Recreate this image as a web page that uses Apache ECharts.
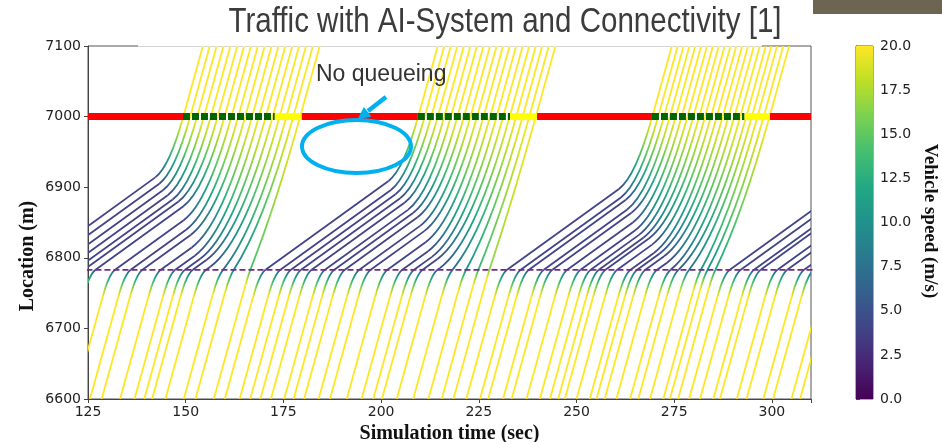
<!DOCTYPE html>
<html><head><meta charset="utf-8">
<script src="https://cdn.jsdelivr.net/npm/echarts@6/dist/echarts.min.js"></script>
<style>html,body{margin:0;padding:0;background:#fff}#c{width:942px;height:442px}</style>
</head><body><div id="c"></div>
<script>
// ---------------- data ----------------
const timeTicks = [125, 150, 175, 200, 225, 250, 275, 300];
const locationTicks = [6600, 6700, 6800, 6900, 7000, 7100];
const speedTicks = [0, 2.5, 5, 7.5, 10, 12.5, 15, 17.5, 20];
const controlLineLocation = 6783;
const stopLineLocation = 7000;
// signal phases at the stop line: [start, end, state]
const signalPhases = [
  [120, 149.3, 'red'], [149.3, 172.8, 'green'], [172.8, 179.7, 'yellow'],
  [179.7, 209.4, 'red'], [209.4, 233.0, 'green'], [233.0, 239.9, 'yellow'],
  [239.9, 269.3, 'red'], [269.3, 293.0, 'green'], [293.0, 299.5, 'yellow'],
  [299.5, 315, 'red']
];
// vehicle trajectories: waypoints [time (s), location (m), speed (m/s)]
const cycle1Vehicles = [
  [[99.07,6600,20],[106.3,6744.6,20],[109.5,6783,4],[142.22,6913.9,4],[149.4,7000,20],[154.4,7100,20]],
  [[102.32,6600,20],[109.55,6744.6,20],[112.75,6783,4],[143.24,6905,4],[151.16,7000,20],[156.16,7100,20]],
  [[105.57,6600,20],[112.8,6744.6,20],[116.0,6783,4],[144.25,6896,4],[152.92,7000,20],[157.92,7100,20]],
  [[108.57,6600,20],[115.8,6744.6,20],[119.0,6783,4],[145.4,6888.6,4],[154.68,7000,20],[159.68,7100,20]],
  [[111.32,6600,20],[118.55,6744.6,20],[121.75,6783,4],[146.66,6882.6,4],[156.44,7000,20],[161.44,7100,20]],
  [[113.57,6600,20],[120.8,6744.6,20],[124.0,6783,4],[148.17,6879.7,4],[158.2,7000,20],[163.2,7100,20]],
  [[116.5,6600,20],[123.73,6744.6,20],[126.93,6783,4],[149.33,6872.6,4],[159.95,7000,20],[164.95,7100,20]],
  [[121.5,6600,20],[128.73,6744.6,20],[131.93,6783,4],[149.48,6853.2,4],[161.71,7000,20],[166.71,7100,20]],
  [[125.5,6600,20],[132.73,6744.6,20],[135.93,6783,4],[150.11,6839.7,4],[163.47,7000,20],[168.47,7100,20]],
  [[128.5,6600,20],[135.73,6744.6,20],[138.93,6783,4],[151.26,6832.3,4],[165.23,7000,20],[170.23,7100,20]],
  [[133.2,6600,20],[140.43,6744.6,20],[143.63,6783,4],[151.56,6814.7,4],[166.99,7000,20],[171.99,7100,20]],
  [[136.9,6600,20],[144.13,6744.6,20],[147.33,6783,4],[152.33,6803.0,4],[168.75,7000,20],[173.75,7100,20]],
  [[139.4,6600,20],[146.63,6744.6,20],[149.83,6783,4],[153.73,6798.6,4],[170.51,7000,20],[175.51,7100,20]],
  [[141.4,6600,20],[148.63,6744.6,20],[151.83,6783,4],[155.36,6797.1,4],[172.27,7000,20],[177.27,7100,20]],
  [[144.8,6600,20],[152.03,6744.6,20],[155.23,6783,4],[156.31,6787.3,4],[174.03,7000,20],[179.03,7100,20]],
  [[149.5,6600,20],[156.88,6747.5,20],[159.54,6783,6.7],[175.79,7000,20],[180.79,7100,20]],
  [[152.5,6600,20],[160.01,6750.2,20],[162.31,6783,8.5],[177.54,7000,20],[182.54,7100,20]],
  [[157.2,6600,20],[165.33,6762.6,20],[166.53,6783,14],[179.3,7000,20],[184.3,7100,20]]
];
const cycle2Vehicles = [
  [[160.0,6600,20],[167.23,6744.6,20],[170.43,6783,4],[201.91,6908.9,4],[209.5,7000,20],[214.5,7100,20]],
  [[163.8,6600,20],[171.03,6744.6,20],[174.23,6783,4],[202.51,6896.1,4],[211.17,7000,20],[216.17,7100,20]],
  [[166.5,6600,20],[173.73,6744.6,20],[176.93,6783,4],[203.68,6890.0,4],[212.84,7000,20],[217.84,7100,20]],
  [[169.1,6600,20],[176.33,6744.6,20],[179.53,6783,4],[204.88,6884.4,4],[214.52,7000,20],[219.52,7100,20]],
  [[171.8,6600,20],[179.03,6744.6,20],[182.23,6783,4],[206.06,6878.3,4],[216.19,7000,20],[221.19,7100,20]],
  [[175.2,6600,20],[182.43,6744.6,20],[185.63,6783,4],[206.86,6867.9,4],[217.86,7000,20],[222.86,7100,20]],
  [[177.6,6600,20],[184.83,6744.6,20],[188.03,6783,4],[208.16,6863.5,4],[219.53,7000,20],[224.53,7100,20]],
  [[180.3,6600,20],[187.53,6744.6,20],[190.73,6783,4],[209.31,6857.3,4],[221.2,7000,20],[226.2,7100,20]],
  [[184.0,6600,20],[191.23,6744.6,20],[194.43,6783,4],[209.98,6845.2,4],[222.88,7000,20],[227.88,7100,20]],
  [[186.9,6600,20],[194.13,6744.6,20],[197.33,6783,4],[211.03,6837.8,4],[224.55,7000,20],[229.55,7100,20]],
  [[191.2,6600,20],[198.43,6744.6,20],[201.63,6783,4],[211.38,6822.0,4],[226.22,7000,20],[231.22,7100,20]],
  [[195.0,6600,20],[202.23,6744.6,20],[205.43,6783,4],[212.01,6809.3,4],[227.89,7000,20],[232.89,7100,20]],
  [[198.0,6600,20],[205.23,6744.6,20],[208.43,6783,4],[213.01,6801.3,4],[229.56,7000,20],[234.56,7100,20]],
  [[200.2,6600,20],[207.43,6744.6,20],[210.63,6783,4],[214.43,6798.2,4],[231.24,7000,20],[236.24,7100,20]],
  [[204.0,6600,20],[211.23,6744.6,20],[214.43,6783,4],[215.03,6785.4,4],[232.91,7000,20],[237.91,7100,20]],
  [[208.2,6600,20],[215.57,6747.4,20],[218.25,6783,6.6],[234.58,7000,20],[239.58,7100,20]],
  [[212.1,6600,20],[219.75,6753,20],[221.75,6783,10],[236.22,7000,20],[241.22,7100,20]],
  [[215.5,6600,20],[223.54,6760.7,20],[224.88,6783,13.3],[237.91,7000,20],[242.91,7100,20]],
  [[218.5,6600,20],[227.01,6770.2,20],[227.71,6783,16.5],[239.6,7000,20],[244.6,7100,20]]
];
const cycle3Vehicles = [
  [[221.8,6600,20],[229.03,6744.6,20],[232.23,6783,4],[260.86,6897.5,4],[269.4,7000,20],[274.4,7100,20]],
  [[225.3,6600,20],[232.53,6744.6,20],[235.73,6783,4],[261.36,6885.5,4],[270.9,7000,20],[275.9,7100,20]],
  [[227.4,6600,20],[234.63,6744.6,20],[237.83,6783,4],[262.56,6881.9,4],[272.4,7000,20],[277.4,7100,20]],
  [[231.2,6600,20],[238.43,6744.6,20],[241.63,6783,4],[262.91,6868.1,4],[273.9,7000,20],[278.9,7100,20]],
  [[233.4,6600,20],[240.63,6744.6,20],[243.83,6783,4],[264.06,6863.9,4],[275.4,7000,20],[280.4,7100,20]],
  [[237.2,6600,20],[244.43,6744.6,20],[247.63,6783,4],[264.41,6850.1,4],[276.9,7000,20],[281.9,7100,20]],
  [[240.6,6600,20],[247.83,6744.6,20],[251.03,6783,4],[264.96,6838.7,4],[278.4,7000,20],[283.4,7100,20]],
  [[243.2,6600,20],[250.43,6744.6,20],[253.63,6783,4],[265.91,6832.1,4],[279.9,7000,20],[284.9,7100,20]],
  [[245.3,6600,20],[252.53,6744.6,20],[255.73,6783,4],[267.11,6828.5,4],[281.4,7000,20],[286.4,7100,20]],
  [[247.0,6600,20],[254.23,6744.6,20],[257.43,6783,4],[268.51,6827.3,4],[282.9,7000,20],[287.9,7100,20]],
  [[250.0,6600,20],[257.23,6744.6,20],[260.43,6783,4],[269.26,6818.3,4],[284.4,7000,20],[289.4,7100,20]],
  [[253.4,6600,20],[260.63,6744.6,20],[263.83,6783,4],[269.81,6806.9,4],[285.9,7000,20],[290.9,7100,20]],
  [[255.1,6600,20],[262.33,6744.6,20],[265.53,6783,4],[271.21,6805.7,4],[287.4,7000,20],[292.4,7100,20]],
  [[257.2,6600,20],[264.43,6744.6,20],[267.63,6783,4],[272.41,6802.1,4],[288.9,7000,20],[293.9,7100,20]],
  [[260.2,6600,20],[267.43,6744.6,20],[270.63,6783,4],[273.16,6793.1,4],[290.4,7000,20],[295.4,7100,20]],
  [[263.7,6600,20],[270.95,6744.9,20],[274.08,6783,4.35],[291.9,7000,20],[296.9,7100,20]],
  [[265.8,6600,20],[273.08,6745.5,20],[276.08,6783,5],[293.44,7000,20],[298.44,7100,20]],
  [[268.8,6600,20],[276.2,6747.9,20],[278.8,6783,7],[294.87,7000,20],[299.87,7100,20]],
  [[272.2,6600,20],[279.85,6753,20],[281.85,6783,10],[296.32,7000,20],[301.32,7100,20]],
  [[273.9,6600,20],[281.57,6753.4,20],[283.53,6783,10.2],[297.9,7000,20],[302.9,7100,20]],
  [[276.0,6600,20],[283.79,6755.8,20],[285.53,6783,11.3],[299.4,7000,20],[304.4,7100,20]]
];
const cycle4Vehicles = [
  [[278.8,6600,20],[286.03,6744.6,20],[289.23,6783,4],[320,6906.1,4]],
  [[281.6,6600,20],[288.83,6744.6,20],[292.03,6783,4],[320,6894.9,4]],
  [[285.0,6600,20],[292.23,6744.6,20],[295.43,6783,4],[320,6881.3,4]],
  [[286.7,6600,20],[293.93,6744.6,20],[297.13,6783,4],[320,6874.5,4]],
  [[291.0,6600,20],[298.23,6744.6,20],[301.43,6783,4],[320,6857.3,4]],
  [[293.5,6600,20],[300.73,6744.6,20],[303.93,6783,4],[320,6847.3,4]],
  [[297.8,6600,20],[305.03,6744.6,20],[308.23,6783,4],[320,6830.1,4]],
  [[300.3,6600,20],[307.53,6744.6,20],[310.73,6783,4],[320,6820.1,4]],
  [[305.0,6600,20],[312.23,6744.6,20],[315.43,6783,4],[320,6801.3,4]],
  [[307.2,6600,20],[314.43,6744.6,20],[317.63,6783,4],[320,6792.5,4]]
];

// ---------------- styling ----------------
const VIRIDIS = ['#440154','#482475','#414487','#355f8d','#2a788e','#21918c','#22a884','#44bf70','#7ad151','#bddf26','#fde725'];
const SPEED_MAX = 20;
function hexRgb(h){return [parseInt(h.slice(1,3),16),parseInt(h.slice(3,5),16),parseInt(h.slice(5,7),16)];}
function viridis(f){
  f = Math.max(0, Math.min(1, f));
  const p = f * (VIRIDIS.length - 1), i = Math.min(VIRIDIS.length - 2, Math.floor(p)), r = p - i;
  const a = hexRgb(VIRIDIS[i]), b = hexRgb(VIRIDIS[i + 1]);
  return 'rgb(' + [0,1,2].map(k => Math.round(a[k] + (b[k] - a[k]) * r)).join(',') + ')';
}
const PHASE_COLORS = {red: '#ff0000', green: '#006400', yellow: '#ffff00'};
const LW = 1.8;
const allVehicles = [].concat(cycle1Vehicles, cycle2Vehicles, cycle3Vehicles, cycle4Vehicles);

const chart = echarts.init(document.getElementById('c'), null, {renderer: 'canvas'});

// title width fit
const TITLE = 'Traffic with AI-System and Connectivity [1]';
const TITLE_FONT = '35px "Liberation Sans Narrow", "Liberation Sans", Arial, sans-serif';
const mc = document.createElement('canvas').getContext('2d');
mc.font = TITLE_FONT;
const titleScale = 553 / mc.measureText(TITLE).width;

const tickFont = {fontFamily: '"DejaVu Sans", sans-serif', fontSize: 14, color: '#222'};

chart.setOption({
  animation: false,
  backgroundColor: '#fff',
  grid: [
    {left: 88, right: 131, top: 46, bottom: 43, show: true, borderColor: '#555', borderWidth: 1,
     backgroundColor: 'transparent', containLabel: false, outerBoundsMode: 'none'},
    {left: 856, width: 17, top: 46, bottom: 43, show: true, borderColor: '#555', borderWidth: 1,
     backgroundColor: 'transparent', containLabel: false, outerBoundsMode: 'none'}
  ],
  xAxis: [
    {gridIndex: 0, type: 'value', min: timeTicks[0], max: 310, interval: 25,
     axisLine: {show: true, onZero: false, lineStyle: {color: '#444', width: 1}},
     axisTick: {show: true, inside: false, length: 4, lineStyle: {color: '#444'}},
     axisLabel: Object.assign({margin: 6, formatter: v => timeTicks.includes(v) ? String(v) : ''}, tickFont),
     splitLine: {show: false},
     name: 'Simulation time (sec)', nameLocation: 'middle', nameGap: 25,
     nameTextStyle: {fontFamily: '"Liberation Serif", "DejaVu Serif", serif', fontWeight: 'bold', fontSize: 20, color: '#111'}},
    {gridIndex: 1, type: 'value', min: 0, max: 1, show: false}
  ],
  yAxis: [
    {gridIndex: 0, type: 'value', min: locationTicks[0], max: locationTicks[locationTicks.length - 1], interval: 100,
     axisLine: {show: true, onZero: false, lineStyle: {color: '#444', width: 1}},
     axisTick: {show: true, inside: false, length: 4, lineStyle: {color: '#444'}},
     axisLabel: Object.assign({margin: 7, formatter: v => String(v)}, tickFont),
     splitLine: {show: false}},
    {gridIndex: 1, type: 'value', min: speedTicks[0], max: speedTicks[speedTicks.length - 1], interval: 2.5, position: 'right',
     axisLine: {show: true, lineStyle: {color: '#444'}},
     axisTick: {show: true, inside: false, length: 4, lineStyle: {color: '#444'}},
     axisLabel: Object.assign({margin: 7, formatter: v => v.toFixed(1)}, tickFont),
     splitLine: {show: false}}
  ],
  series: [
    {
      type: 'custom', xAxisIndex: 0, yAxisIndex: 0, clip: true, z: 2,
      data: allVehicles.map((w, i) => [w[0][0], w[0][1], i]),
      encode: {x: 0, y: 1},
      renderItem: (params, api) => {
        const w = allVehicles[params.dataIndex];
        const children = [];
        for (let k = 0; k < w.length - 1; k++) {
          const p0 = w[k], p1 = w[k + 1];
          const a = api.coord([p0[0], p0[1]]), b = api.coord([p1[0], p1[1]]);
          if (Math.abs(p0[2] - p1[2]) < 1e-6) {
            children.push({type: 'line', shape: {x1: a[0], y1: a[1], x2: b[0], y2: b[1]},
              style: {stroke: viridis(p0[2] / SPEED_MAX), lineWidth: LW}});
          } else {
            const c = api.coord([(p0[0] + p1[0]) / 2, p0[1] + p0[2] * (p1[0] - p0[0]) / 2]);
            const stops = [];
            for (let s = 0; s <= 6; s++) {
              const f = s / 6;
              stops.push({offset: f, color: viridis((p0[2] + (p1[2] - p0[2]) * f) / SPEED_MAX)});
            }
            children.push({type: 'bezierCurve',
              shape: {x1: a[0], y1: a[1], x2: b[0], y2: b[1], cpx1: c[0], cpy1: c[1]},
              style: {fill: null, lineWidth: LW,
                stroke: new echarts.graphic.LinearGradient(a[0], 0, b[0], 0, stops, true)}});
          }
        }
        return {type: 'group', children: children};
      }
    },
    {
      type: 'line', xAxisIndex: 0, yAxisIndex: 0, z: 3, symbol: 'none', silent: true,
      data: [[120, controlLineLocation], [315, controlLineLocation]],
      lineStyle: {color: '#742a86', width: 1.8, type: [6, 3]},
      clip: true
    },
    {
      type: 'custom', xAxisIndex: 0, yAxisIndex: 0, clip: true, z: 4,
      data: signalPhases.map(p => [p[0], stopLineLocation, p[1]]),
      encode: {x: 0, y: 1},
      renderItem: (params, api) => {
        const p = signalPhases[params.dataIndex];
        const a = api.coord([p[0], stopLineLocation]), b = api.coord([p[1], stopLineLocation]);
        return {type: 'line', shape: {x1: a[0], y1: a[1], x2: b[0], y2: b[1]},
          style: {stroke: PHASE_COLORS[p[2]], lineWidth: 7, lineCap: 'butt',
            lineDash: p[2] === 'green' ? [7, 2] : null}};
      }
    },
    {
      type: 'custom', xAxisIndex: 1, yAxisIndex: 1, z: 2,
      data: [[0, speedTicks[0]]],
      renderItem: (params, api) => {
        const tl = api.coord([0, speedTicks[speedTicks.length - 1]]), br = api.coord([1, speedTicks[0]]);
        const stops = VIRIDIS.map((c, i) => ({offset: 1 - i / (VIRIDIS.length - 1), color: c}));
        return {type: 'rect', shape: {x: tl[0], y: tl[1], width: br[0] - tl[0], height: br[1] - tl[1]},
          style: {fill: new echarts.graphic.LinearGradient(0, 0, 0, 1, stops)}};
      }
    }
  ],
  graphic: [
    {type: 'rect', z: 50, shape: {x: 138, y: 0, width: 624, height: 46.6}, style: {fill: '#fff'}},
    {type: 'rect', z: 51, shape: {x: 813, y: 0, width: 129, height: 14}, style: {fill: '#6d6551'}},
    {type: 'text', z: 52, x: 505, y: 22, scaleX: titleScale,
     style: {text: TITLE, font: TITLE_FONT, fill: '#3c3c3c', align: 'center', verticalAlign: 'middle'}},
    {type: 'text', z: 52, x: 28, y: 256, rotation: Math.PI / 2,
     style: {text: 'Location (m)', font: 'bold 20px "Liberation Serif", "DejaVu Serif", serif', fill: '#111', align: 'center', verticalAlign: 'middle'}},
    {type: 'text', z: 52, x: 930, y: 221, rotation: -Math.PI / 2,
     style: {text: 'Vehicle speed (m/s)', font: 'bold 19px "Liberation Serif", "DejaVu Serif", serif', fill: '#111', align: 'center', verticalAlign: 'middle'}},
    {type: 'text', z: 52, x: 316, y: 75,
     style: {text: 'No queueing', font: '23px "Liberation Sans", Arial, sans-serif', fill: '#333', align: 'left', verticalAlign: 'middle'}},
    {type: 'ellipse', z: 52, shape: {cx: 356.5, cy: 146.5, rx: 54.5, ry: 26.5}, style: {fill: null, stroke: '#00b0f0', lineWidth: 4}},
    {type: 'line', z: 52, shape: {x1: 386, y1: 97, x2: 368, y2: 111}, style: {stroke: '#00b0f0', lineWidth: 4.5}},
    {type: 'polygon', z: 52, shape: {points: [[357.5, 119.5], [363.8, 106.9], [371.6, 116.6]]}, style: {fill: '#00b0f0'}}
  ]
});
</script></body></html>
